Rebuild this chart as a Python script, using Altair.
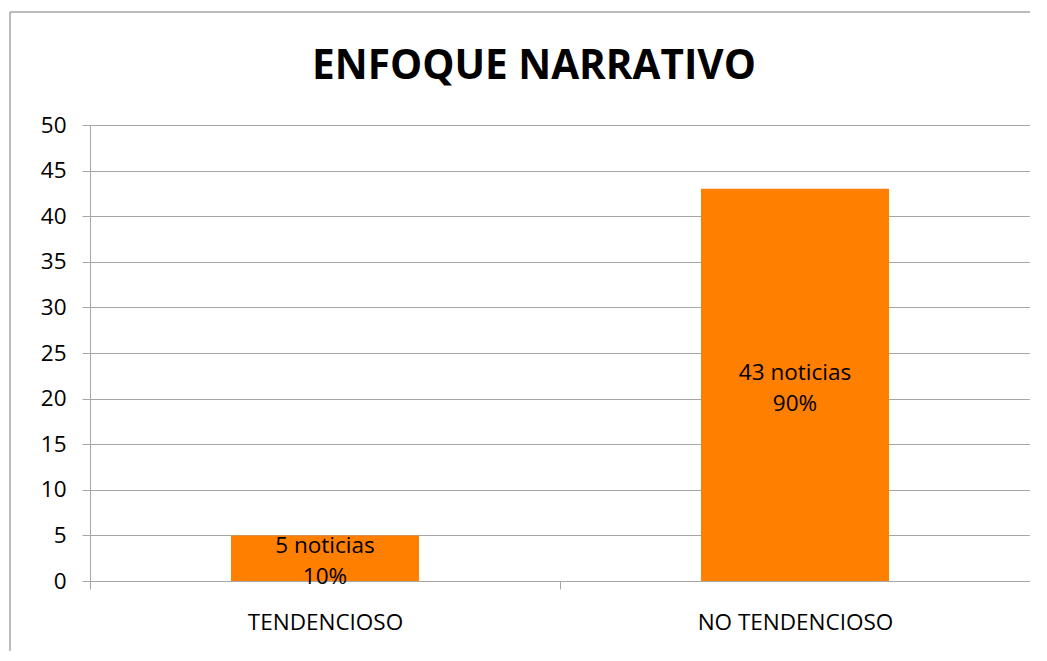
import altair as alt
import pandas as pd

categories = ["TENDENCIOSO", "NO TENDENCIOSO"]
values = [5, 43]
percents = ["10%", "90%"]
labels = [f"{v} noticias\n{p}" for v, p in zip(values, percents)]
title_text = "ENFOQUE NARRATIVO"

df = pd.DataFrame({"cat": categories, "val": values, "label": labels})

W, H = 940, 456
FONT = "Open Sans"
GRAY = "#A6A6A6"

x_enc = alt.X(
    "cat:N",
    sort=categories,
    title=None,
    scale=alt.Scale(paddingInner=0, paddingOuter=0),
    axis=alt.Axis(
        labelAngle=0,
        tickBand="extent",
        tickSize=8,
        tickColor=GRAY,
        domainColor=GRAY,
        labelFont=FONT,
        labelFontSize=22.5,
        labelColor="black",
        labelPadding=22,
        labelLimit=600,
        grid=False,
    ),
)

bars = alt.Chart(df).mark_bar(
    color="#FF7F00", width=alt.RelativeBandSize(0.4)
).encode(
    x=x_enc,
    y=alt.Y(
        "val:Q",
        title=None,
        scale=alt.Scale(domain=[0, 50]),
        axis=alt.Axis(
            values=list(range(0, 51, 5)),
            tickSize=8,
            tickColor=GRAY,
            domainColor=GRAY,
            gridColor=GRAY,
            labelFont=FONT,
            labelFontSize=22.5,
            labelColor="black",
            labelPadding=16,
        ),
    ),
)

text = alt.Chart(df).transform_calculate(mid="datum.val / 2").mark_text(
    font=FONT, fontSize=22.5, color="black", lineBreak="\n", lineHeight=31,
    baseline="middle", align="center", dy=-12,
).encode(
    x=alt.X("cat:N", sort=categories),
    y=alt.Y("mid:Q"),
    text="label:N",
)

frame_df = pd.DataFrame({"k": [0]})
frame_left = alt.Chart(frame_df).mark_rule(color=GRAY, strokeWidth=1.5).encode(
    x=alt.value(-80), y=alt.value(-113), y2=alt.value(H + 80)
)
frame_top = alt.Chart(frame_df).mark_rule(color=GRAY, strokeWidth=1.5).encode(
    x=alt.value(-80), x2=alt.value(W + 40), y=alt.value(-113)
)

title_df = pd.DataFrame({"t": [title_text]})
title = alt.Chart(title_df).mark_text(
    font=FONT, fontSize=40.5, fontWeight="bold", color="black",
    align="center", baseline="alphabetic",
).encode(x=alt.value(444), y=alt.value(-46), text="t:N")

chart = alt.layer(frame_left, frame_top, bars, text, title).properties(
    width=W,
    height=H,
    autosize=alt.AutoSizeParams(type="none"),
    padding={"left": 82, "top": 117, "right": 0, "bottom": 70},
).configure_view(stroke=None).configure(background="white")

chart.save("out.html", embed_options={"renderer": "svg", "actions": False})
